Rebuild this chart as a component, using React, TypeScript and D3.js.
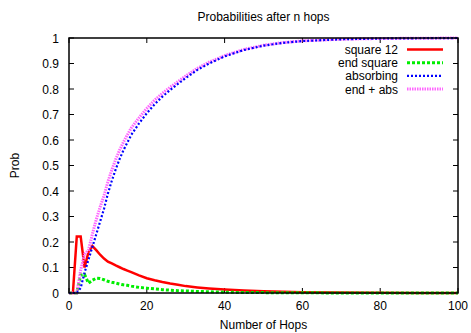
import React from "react";
import * as d3 from "d3";

const hops = [0,1,2,3,4,5,6,7,8,9,10,11,12,13,14,15,16,18,20,22,24,26,28,30,33,36,40,45,50,55,60,70,80,90,100];
const square12 = [0,0,0.222,0.222,0.1,0.16,0.184,0.168,0.15,0.135,0.123,0.116,0.108,0.101,0.094,0.088,0.082,0.069,0.058,0.05,0.043,0.037,0.032,0.027,0.022,0.018,0.014,0.01,0.007,0.005,0.003,0.0015,0.0007,0.0003,0.0001];
const endSquare = [0,0,0,0.07,0.073,0.038,0.05,0.058,0.057,0.052,0.046,0.042,0.039,0.035,0.032,0.03,0.027,0.022,0.019,0.016,0.013,0.011,0.009,0.008,0.006,0.005,0.003,0.002,0.0015,0.001,0.0007,0.0003,0.0001,0,0];
const absorbing = [0,0,0,0.02,0.08,0.13,0.18,0.23,0.28,0.33,0.39,0.44,0.485,0.525,0.56,0.59,0.62,0.665,0.705,0.74,0.77,0.796,0.82,0.843,0.875,0.9,0.928,0.953,0.97,0.981,0.988,0.995,0.998,0.999,1];
const endAbs = [0,0,0,0.09,0.153,0.168,0.23,0.288,0.337,0.382,0.436,0.482,0.524,0.56,0.592,0.62,0.647,0.687,0.724,0.756,0.783,0.807,0.829,0.851,0.881,0.905,0.931,0.955,0.9715,0.982,0.9887,0.9953,0.9981,0.999,1];

const xTicks = [0,20,40,60,80,100];
const yTicks = [0,0.1,0.2,0.3,0.4,0.5,0.6,0.7,0.8,0.9,1];
const seriesNames = ["square 12","end square","absorbing","end + abs"];

const W = 471, H = 333;
const L = 69, R = 458, T = 38, B = 293;
const font = "'Liberation Sans', Arial, Helvetica, sans-serif";

export default function App() {
  const x = d3.scaleLinear().domain([0, 100]).range([L, R]);
  const y = d3.scaleLinear().domain([0, 1]).range([B, T]);
  const series = [square12, endSquare, absorbing, endAbs];
  const styles = [
    { stroke: "#ff0000", width: 2.5, dash: undefined as string | undefined },
    { stroke: "#00ee00", width: 3, dash: "3,2" },
    { stroke: "#0000ff", width: 2.2, dash: "2,2" },
    { stroke: "#ff66ff", width: 3, dash: "1.5,1" },
  ];
  const line = d3.line<number>().x((_, i) => x(hops[i])).y((d) => y(d));
  const order = [0, 1, 3, 2];
  return (
    <svg width={W} height={H} style={{ position: "absolute", left: 0, top: 0, background: "#fff" }} fontFamily={font}>
      <rect x={0} y={0} width={W} height={H} fill="#fff" />
      <text x={(L + R) / 2} y={21} textAnchor="middle" fontSize={12}>Probabilities after n hops</text>
      {yTicks.map((t) => (
        <g key={"y" + t}>
          <line x1={L} x2={L + 5} y1={y(t)} y2={y(t)} stroke="#000" />
          <line x1={R} x2={R - 5} y1={y(t)} y2={y(t)} stroke="#000" />
          <text x={59} y={y(t) + 4.5} textAnchor="end" fontSize={12}>{String(t)}</text>
        </g>
      ))}
      {xTicks.map((t) => (
        <g key={"x" + t}>
          <line x1={x(t)} x2={x(t)} y1={B} y2={B - 5} stroke="#000" />
          <line x1={x(t)} x2={x(t)} y1={T} y2={T + 5} stroke="#000" />
          <text x={x(t)} y={310} textAnchor="middle" fontSize={12}>{String(t)}</text>
        </g>
      ))}
      <text x={(L + R) / 2} y={329} textAnchor="middle" fontSize={12}>Number of Hops</text>
      <text transform={`translate(19,${(T + B) / 2}) rotate(-90)`} textAnchor="middle" fontSize={12}>Prob</text>
      <defs>
        <clipPath id="plot"><rect x={L} y={T - 2} width={R - L} height={B - T + 4} /></clipPath>
      </defs>
      <g clipPath="url(#plot)">
        {order.map((i) => (
          <path key={i} d={line(series[i]) || ""} fill="none" stroke={styles[i].stroke} strokeWidth={styles[i].width} strokeDasharray={styles[i].dash} strokeLinejoin="miter" />
        ))}
      </g>
      {seriesNames.map((n, i) => {
        const ly = 49.5 + i * 13.2;
        return (
          <g key={n}>
            <text x={398} y={ly + 4.5} textAnchor="end" fontSize={12}>{n}</text>
            <line x1={407} x2={443} y1={ly} y2={ly} stroke={styles[i].stroke} strokeWidth={styles[i].width} strokeDasharray={styles[i].dash} />
          </g>
        );
      })}
      <rect x={L} y={T} width={R - L} height={B - T} fill="none" stroke="#000" strokeWidth={1.5} />
    </svg>
  );
}
